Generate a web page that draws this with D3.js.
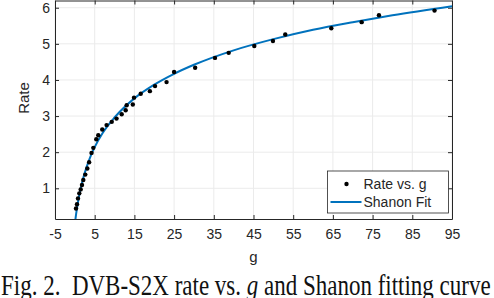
<!DOCTYPE html>
<html>
<head>
<meta charset="utf-8">
<script src="https://cdn.jsdelivr.net/npm/d3@7"></script>
<style>
  body { margin: 0; background: #fff; }
  svg { display: block; }
</style>
</head>
<body>
<svg id="chart" width="494" height="298"></svg>
<script>
// measured DVB-S2X points (g, rate)
const gValues = [0.29, 0.54, 0.79, 1.12, 1.47, 1.80, 2.13, 2.63, 3.14, 3.6, 4.2, 4.65, 5.4, 5.9, 6.9, 8.0, 9.3, 10.5, 11.8, 12.8, 13.05, 14.6, 14.9, 16.6, 18.9, 20.2, 23.1, 25.0, 30.3, 35.3, 38.75, 45.2, 49.9, 53.0, 64.6, 72.25, 76.6, 90.6];
const rateValues = [0.44, 0.56, 0.72, 0.86, 0.97, 1.09, 1.23, 1.38, 1.55, 1.72, 1.98, 2.12, 2.36, 2.47, 2.63, 2.75, 2.84, 2.93, 3.05, 3.16, 3.30, 3.32, 3.51, 3.62, 3.69, 3.83, 3.94, 4.22, 4.34, 4.61, 4.75, 4.94, 5.08, 5.26, 5.43, 5.60, 5.79, 5.92];

// Shanon fit curve
const fitG = [0.16, 0.3, 0.5, 1, 1.5, 2, 3, 4, 5, 7, 10, 15, 20, 25, 30, 40, 50, 60, 70, 80, 95];
const fitRate = [0.15, 0.27, 0.42, 0.75, 1.01, 1.24, 1.60, 1.90, 2.14, 2.53, 2.96, 3.49, 3.87, 4.17, 4.42, 4.82, 5.13, 5.39, 5.60, 5.79, 6.04];

const xTicks = [-5, 5, 15, 25, 35, 45, 55, 65, 75, 85, 95];
const yTicks = [1, 2, 3, 4, 5, 6];
const legendLabels = ['Rate vs. g', 'Shanon Fit'];

const svg = d3.select('#chart');
const margin = { left: 55, top: 0.5, right: 42, bottom: 79 };
const width = 494 - margin.left - margin.right;
const height = 298 - margin.top - margin.bottom;
const axisColor = '#262626';
const font = '"Liberation Sans", Arial, sans-serif';
const plain = (d) => String(d); // hyphen minus, no decimals

const x = d3.scaleLinear().domain([-5, 95]).range([0, width]);
const y = d3.scaleLinear().domain([0.15, 6.2]).range([height, 0]);

const g = svg.append('g').attr('transform', `translate(${margin.left},${margin.top})`);

// grid
g.append('g')
  .selectAll('line')
  .data(xTicks)
  .enter()
  .append('line')
  .attr('x1', (d) => x(d)).attr('x2', (d) => x(d))
  .attr('y1', 0).attr('y2', height)
  .attr('stroke', '#ebebeb');
g.append('g')
  .selectAll('line')
  .data(yTicks)
  .enter()
  .append('line')
  .attr('x1', 0).attr('x2', width)
  .attr('y1', (d) => y(d)).attr('y2', (d) => y(d))
  .attr('stroke', '#ebebeb');

// axes with inward ticks, box on
const styleAxis = (sel) => {
  sel.select('.domain').attr('stroke', axisColor);
  sel.selectAll('.tick line').attr('stroke', axisColor);
  sel.selectAll('.tick text')
    .attr('fill', axisColor)
    .style('font-family', font)
    .style('font-size', '14px');
};

g.append('g')
  .attr('transform', `translate(0,${height})`)
  .call(d3.axisBottom(x).tickValues(xTicks).tickFormat(plain).tickSize(-4).tickPadding(10).tickSizeOuter(0))
  .call(styleAxis);
g.append('g')
  .call(d3.axisTop(x).tickValues(xTicks).tickSize(-4).tickFormat('').tickSizeOuter(0))
  .call(styleAxis);
g.append('g')
  .call(d3.axisLeft(y).tickValues(yTicks).tickFormat(plain).tickSize(-4).tickPadding(5).tickSizeOuter(0))
  .call(styleAxis);
g.append('g')
  .attr('transform', `translate(${width},0)`)
  .call(d3.axisRight(y).tickValues(yTicks).tickSize(-4).tickFormat('').tickSizeOuter(0))
  .call(styleAxis);

// axis labels
g.append('text')
  .attr('x', width / 2)
  .attr('y', height + 43)
  .attr('text-anchor', 'middle')
  .attr('fill', axisColor)
  .style('font-family', font)
  .style('font-size', '15px')
  .text('g');
g.append('text')
  .attr('transform', `translate(-26,${y(3.5)}) rotate(-90)`)
  .attr('text-anchor', 'middle')
  .attr('fill', axisColor)
  .style('font-family', font)
  .style('font-size', '15px')
  .text('Rate');

const plot = g.append('g');

// fit curve
const fitData = fitG.map((d, i) => ({ g: d, r: fitRate[i] }));
plot.append('path')
  .datum(fitData)
  .attr('fill', 'none')
  .attr('stroke', '#0072BD')
  .attr('stroke-width', 2)
  .attr('d', d3.line().x((d) => x(d.g)).y((d) => y(d.r)).curve(d3.curveMonotoneX));

// data points
plot.append('g')
  .selectAll('circle')
  .data(gValues.map((d, i) => ({ g: d, r: rateValues[i] })))
  .enter()
  .append('circle')
  .attr('cx', (d) => x(d.g))
  .attr('cy', (d) => y(d.r))
  .attr('r', 2.2)
  .attr('fill', '#000');

// legend
const legend = g.append('g').attr('transform', `translate(${width - 124.5},${height - 48})`);
legend.append('rect')
  .attr('width', 121).attr('height', 42)
  .attr('fill', '#fff')
  .attr('stroke', axisColor)
  .attr('stroke-width', 0.8);
legend.append('circle').attr('cx', 19).attr('cy', 13).attr('r', 2.2).attr('fill', '#000');
legend.append('line')
  .attr('x1', 3).attr('x2', 34).attr('y1', 31).attr('y2', 31)
  .attr('stroke', '#0072BD').attr('stroke-width', 2);
legend.selectAll('text.lbl')
  .data(legendLabels)
  .enter()
  .append('text')
  .attr('class', 'lbl')
  .attr('x', 36)
  .attr('y', (d, i) => 18 + i * 18)
  .attr('fill', axisColor)
  .style('font-family', font)
  .style('font-size', '14px')
  .text((d) => d);

// caption (stretched vertically like the source figure)
const cap = svg.append('text')
  .attr('transform', 'translate(1,295) scale(1,1.25)')
  .style('font-family', '"Liberation Serif", "Times New Roman", serif')
  .style('font-size', '23px')
  .attr('fill', '#111');
cap.append('tspan').text('Fig. 2.\u00a0\u00a0DVB-S2X rate vs. ');
cap.append('tspan').style('font-style', 'italic').text('g');
cap.append('tspan').text(' and Shanon fitting curve');
</script>
</body>
</html>
